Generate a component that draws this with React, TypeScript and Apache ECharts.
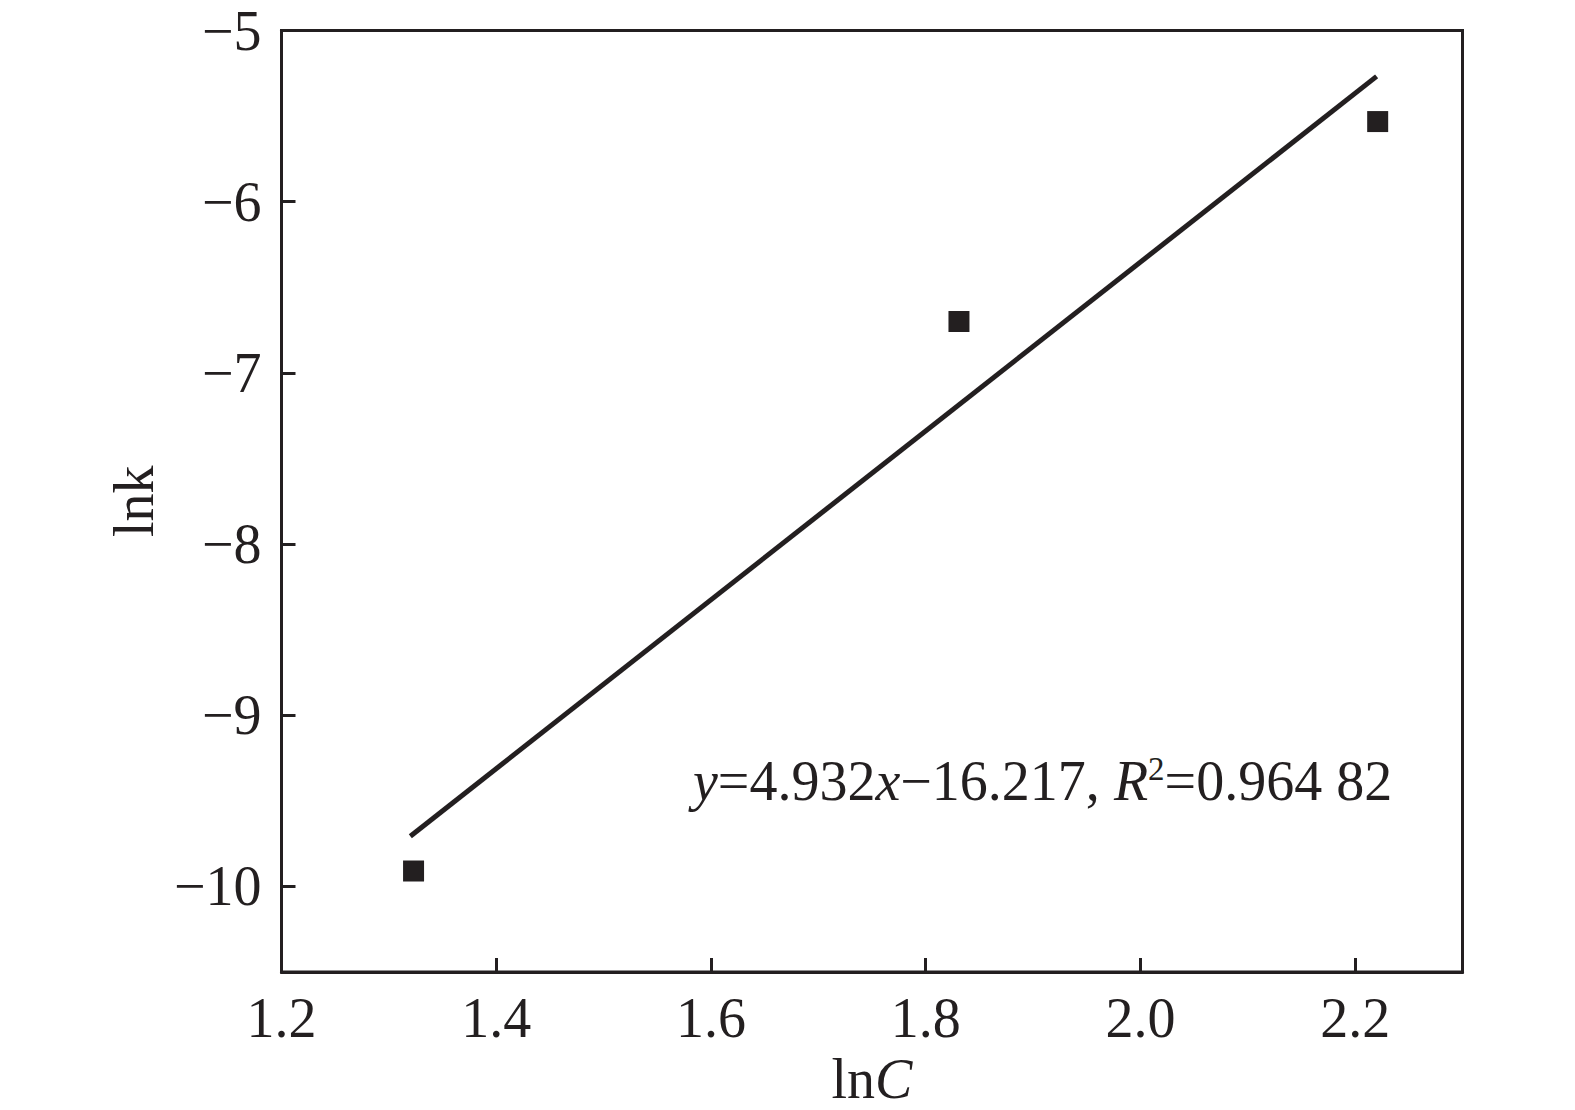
import React, { useEffect, useRef } from "react";
import * as echarts from "echarts";

const pointsX = [1.323, 1.831, 2.221];
const pointsY = [-9.91, -6.7, -5.532];
const fitSlope = 4.932;
const fitIntercept = -16.217;
const fitRangeX = [1.32, 2.22];
const xTicks = [1.2, 1.4, 1.6, 1.8, 2.0, 2.2];
const yTicks = [-10, -9, -8, -7, -6, -5];

const INK = "#231f20";
const FONT = "'Liberation Serif', 'Times New Roman', serif";

export default function App() {
  const ref = useRef<HTMLDivElement>(null);
  useEffect(() => {
    if (!ref.current) return;
    const chart = echarts.init(ref.current, null, { renderer: "svg" });
    const scatterData = pointsX.map((x, i) => [x, pointsY[i]]);
    const fitData = fitRangeX.map((x) => [x, fitSlope * x + fitIntercept]);
    chart.setOption({
      animation: false,
      backgroundColor: "#ffffff",
      grid: {
        left: 281.5,
        top: 30.5,
        right: 112.5,
        bottom: 138,
        containLabel: false,
        outerBoundsMode: "none",
        show: true,
        borderColor: INK,
        borderWidth: 3,
        backgroundColor: "transparent",
      },
      xAxis: {
        type: "value",
        min: 1.2,
        max: 2.3,
        splitLine: { show: false },
        axisLine: { show: true, lineStyle: { color: INK, width: 3 } },
        axisTick: {
          show: true,
          inside: true,
          length: 14,
          lineStyle: { color: INK, width: 3 },
          customValues: xTicks,
        },
        axisLabel: {
          customValues: xTicks,
          formatter: (v: number) => v.toFixed(1),
          color: INK,
          fontFamily: FONT,
          fontSize: 56,
          margin: 18,
        },
        name: "{n|ln}{i|C}",
        nameLocation: "middle",
        nameGap: 80,
        nameTextStyle: {
          lineHeight: 52,
          rich: {
            n: { fontFamily: FONT, fontSize: 56, color: INK, lineHeight: 52 },
            i: { fontFamily: FONT, fontSize: 56, color: INK, fontStyle: "italic", lineHeight: 52 },
          },
        },
      },
      yAxis: {
        type: "value",
        min: -10.5,
        max: -5,
        splitLine: { show: false },
        axisLine: { show: true, lineStyle: { color: INK, width: 3 } },
        axisTick: {
          show: true,
          inside: true,
          length: 14,
          lineStyle: { color: INK, width: 3 },
          customValues: yTicks,
        },
        axisLabel: {
          customValues: yTicks,
          formatter: (v: number) => String(Math.round(v)).replace("-", "\u2212"),
          color: INK,
          fontFamily: FONT,
          fontSize: 56,
          margin: 20,
        },
        name: "lnk",
        nameLocation: "middle",
        nameGap: 120,
        nameRotate: 90,
        nameTextStyle: { fontFamily: FONT, fontSize: 56, color: INK },
      },
      series: [
        {
          type: "line",
          data: fitData,
          showSymbol: false,
          symbol: "none",
          lineStyle: { color: INK, width: 5 },
          silent: true,
        },
        {
          type: "scatter",
          data: scatterData,
          symbol: "rect",
          symbolSize: 21,
          itemStyle: { color: INK, opacity: 1 },
        },
      ],
      graphic: [
        {
          type: "text",
          x: 693,
          y: 781,
          style: {
            text: "{i|y}{n|=4.932}{i|x}{n|\u221216.217, }{i|R}{s|2}{n|=0.964 82}",
            verticalAlign: "middle",
            fill: INK,
            rich: {
              n: { fontFamily: FONT, fontSize: 56, color: INK, lineHeight: 62 },
              i: { fontFamily: FONT, fontSize: 56, color: INK, fontStyle: "italic", lineHeight: 62 },
              s: { fontFamily: FONT, fontSize: 33, color: INK, lineHeight: 62, verticalAlign: "top", padding: [2, 0, 0, 0] },
            },
          },
        },
      ],
    });
    return () => chart.dispose();
  }, []);
  return (
    <div
      ref={ref}
      style={{ position: "absolute", left: 0, top: 0, width: 1575, height: 1110, background: "#fff" }}
    />
  );
}
